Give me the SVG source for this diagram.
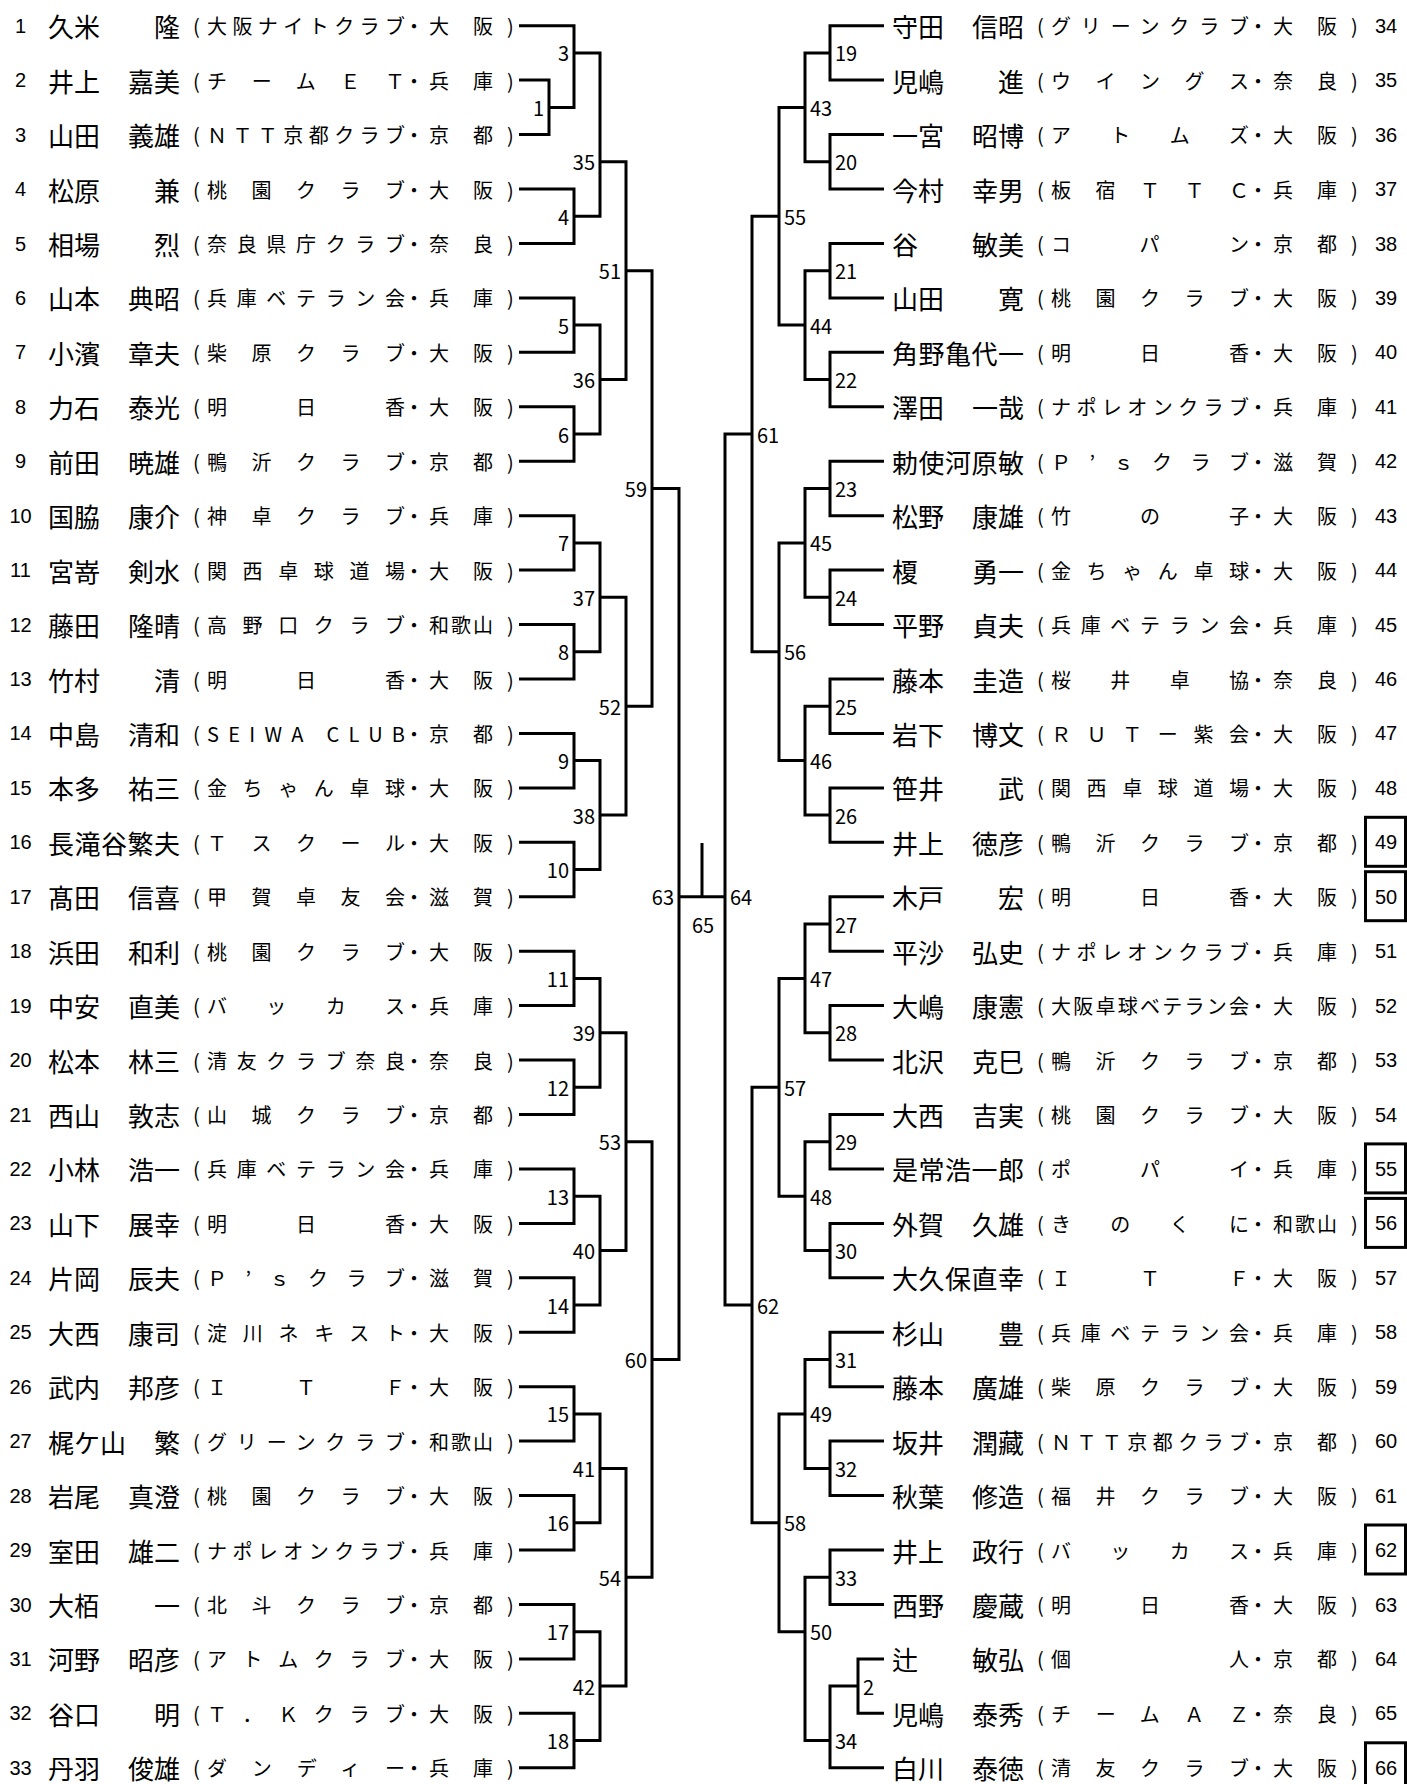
<svg xmlns="http://www.w3.org/2000/svg" width="1407" height="1784" viewBox="0 0 1407 1784">
<style>
text{font-family:"Noto Sans CJK JP",sans-serif;dominant-baseline:central;fill:#000}
.n{font-family:"Liberation Sans",Arial,sans-serif;font-size:20px;text-anchor:middle}
.nm{font-size:26px}
.e{text-anchor:end}
.c{font-size:20px}
.m{text-anchor:middle}
.l{font-family:"Liberation Sans",Arial,sans-serif;font-size:20px}
.cn path{fill:none;stroke:#000;stroke-width:3}
.bx{fill:none;stroke:#000;stroke-width:3}
</style>
<rect width="1407" height="1784" fill="#fff"/>
<g class="cn" id="connectors">
<path d="M519 80.1H549V134.6H519"/>
<path d="M519 25.7H574V107.4H549"/>
<path d="M519 189H574V243.5H519"/>
<path d="M574 52.9H600V216.2H574"/>
<path d="M519 297.9H574V352.3H519"/>
<path d="M519 406.8H574V461.2H519"/>
<path d="M574 325.1H600V434H574"/>
<path d="M600 161.8H626V379.6H600"/>
<path d="M519 515.7H574V570.1H519"/>
<path d="M519 624.5H574V679H519"/>
<path d="M574 542.9H600V651.8H574"/>
<path d="M519 733.4H574V787.9H519"/>
<path d="M519 842.3H574V896.7H519"/>
<path d="M574 760.6H600V869.5H574"/>
<path d="M600 597.3H626V815.1H600"/>
<path d="M626 270.7H652V706.2H626"/>
<path d="M519 951.2H574V1005.6H519"/>
<path d="M519 1060.1H574V1114.5H519"/>
<path d="M574 978.4H600V1087.3H574"/>
<path d="M519 1168.9H574V1223.4H519"/>
<path d="M519 1277.8H574V1332.3H519"/>
<path d="M574 1196.2H600V1305H574"/>
<path d="M600 1032.8H626V1250.6H600"/>
<path d="M519 1386.7H574V1441.1H519"/>
<path d="M519 1495.6H574V1550H519"/>
<path d="M574 1413.9H600V1522.8H574"/>
<path d="M519 1604.5H574V1658.9H519"/>
<path d="M519 1713.3H574V1767.8H519"/>
<path d="M574 1631.7H600V1740.6H574"/>
<path d="M600 1468.4H626V1686.1H600"/>
<path d="M626 1141.7H652V1577.2H626"/>
<path d="M652 488.4H679V1359.5H652"/>
<path d="M679 896.7H725"/>
<path d="M702 843V896.7"/>
<path d="M752 434H725V1305H752"/>
<path d="M884 25.7H830V80.1H884"/>
<path d="M884 134.6H830V189H884"/>
<path d="M830 52.9H805V161.8H830"/>
<path d="M884 243.5H830V297.9H884"/>
<path d="M884 352.3H830V406.8H884"/>
<path d="M830 270.7H805V379.6H830"/>
<path d="M805 107.4H779V325.1H805"/>
<path d="M884 461.2H830V515.7H884"/>
<path d="M884 570.1H830V624.5H884"/>
<path d="M830 488.4H805V597.3H830"/>
<path d="M884 679H830V733.4H884"/>
<path d="M884 787.9H830V842.3H884"/>
<path d="M830 706.2H805V815.1H830"/>
<path d="M805 542.9H779V760.6H805"/>
<path d="M779 216.2H752V651.8H779"/>
<path d="M884 896.7H830V951.2H884"/>
<path d="M884 1005.6H830V1060.1H884"/>
<path d="M830 924H805V1032.8H830"/>
<path d="M884 1114.5H830V1168.9H884"/>
<path d="M884 1223.4H830V1277.8H884"/>
<path d="M830 1141.7H805V1250.6H830"/>
<path d="M805 978.4H779V1196.2H805"/>
<path d="M884 1332.3H830V1386.7H884"/>
<path d="M884 1441.1H830V1495.6H884"/>
<path d="M830 1359.5H805V1468.4H830"/>
<path d="M884 1550H830V1604.5H884"/>
<path d="M884 1658.9H858V1713.3H884"/>
<path d="M858 1686.1H830V1767.8H884"/>
<path d="M830 1577.2H805V1740.6H830"/>
<path d="M805 1413.9H779V1631.7H805"/>
<path d="M779 1087.3H752V1522.8H779"/>
</g>
<g id="match-labels" class="l">
<text x="544" y="107.4" class="e">1</text>
<text x="569" y="52.9" class="e">3</text>
<text x="569" y="216.2" class="e">4</text>
<text x="569" y="325.1" class="e">5</text>
<text x="569" y="434" class="e">6</text>
<text x="569" y="542.9" class="e">7</text>
<text x="569" y="651.8" class="e">8</text>
<text x="569" y="760.6" class="e">9</text>
<text x="569" y="869.5" class="e">10</text>
<text x="569" y="978.4" class="e">11</text>
<text x="569" y="1087.3" class="e">12</text>
<text x="569" y="1196.2" class="e">13</text>
<text x="569" y="1305" class="e">14</text>
<text x="569" y="1413.9" class="e">15</text>
<text x="569" y="1522.8" class="e">16</text>
<text x="569" y="1631.7" class="e">17</text>
<text x="569" y="1740.6" class="e">18</text>
<text x="595" y="161.8" class="e">35</text>
<text x="595" y="379.6" class="e">36</text>
<text x="595" y="597.3" class="e">37</text>
<text x="595" y="815.1" class="e">38</text>
<text x="595" y="1032.8" class="e">39</text>
<text x="595" y="1250.6" class="e">40</text>
<text x="595" y="1468.4" class="e">41</text>
<text x="595" y="1686.1" class="e">42</text>
<text x="621" y="270.7" class="e">51</text>
<text x="621" y="706.2" class="e">52</text>
<text x="621" y="1141.7" class="e">53</text>
<text x="621" y="1577.2" class="e">54</text>
<text x="647" y="488.4" class="e">59</text>
<text x="647" y="1359.5" class="e">60</text>
<text x="674" y="896.7" class="e">63</text>
<text x="703" y="924" class="m">65</text>
<text x="730" y="896.7">64</text>
<text x="757" y="434">61</text>
<text x="757" y="1305">62</text>
<text x="784" y="216.2">55</text>
<text x="784" y="651.8">56</text>
<text x="784" y="1087.3">57</text>
<text x="784" y="1522.8">58</text>
<text x="810" y="107.4">43</text>
<text x="810" y="325.1">44</text>
<text x="810" y="542.9">45</text>
<text x="810" y="760.6">46</text>
<text x="810" y="978.4">47</text>
<text x="810" y="1196.2">48</text>
<text x="810" y="1413.9">49</text>
<text x="810" y="1631.7">50</text>
<text x="835" y="52.9">19</text>
<text x="835" y="161.8">20</text>
<text x="835" y="270.7">21</text>
<text x="835" y="379.6">22</text>
<text x="835" y="488.4">23</text>
<text x="835" y="597.3">24</text>
<text x="835" y="706.2">25</text>
<text x="835" y="815.1">26</text>
<text x="835" y="924">27</text>
<text x="835" y="1032.8">28</text>
<text x="835" y="1141.7">29</text>
<text x="835" y="1250.6">30</text>
<text x="835" y="1359.5">31</text>
<text x="835" y="1468.4">32</text>
<text x="835" y="1577.2">33</text>
<text x="863" y="1686.1">2</text>
<text x="835" y="1740.6">34</text>
</g>
<g id="r1" transform="translate(0 25.7)"><text class="n" x="20.5">1</text><text class="nm" x="48">久米</text><text class="nm e" x="180">隆</text><text class="c m" x="196.5">(</text><text class="c" x="207" textLength="198">大阪ナイトクラブ</text><text class="c" x="404">・</text><text class="c" x="429" textLength="64">大阪</text><text class="c m" x="510.5">)</text></g>
<g id="r2" transform="translate(0 80.1)"><text class="n" x="20.5">2</text><text class="nm" x="48">井上</text><text class="nm e" x="180">嘉美</text><text class="c m" x="196.5">(</text><text class="c" x="207" textLength="198">チームＥＴ</text><text class="c" x="404">・</text><text class="c" x="429" textLength="64">兵庫</text><text class="c m" x="510.5">)</text></g>
<g id="r3" transform="translate(0 134.6)"><text class="n" x="20.5">3</text><text class="nm" x="48">山田</text><text class="nm e" x="180">義雄</text><text class="c m" x="196.5">(</text><text class="c" x="207" textLength="198">ＮＴＴ京都クラブ</text><text class="c" x="404">・</text><text class="c" x="429" textLength="64">京都</text><text class="c m" x="510.5">)</text></g>
<g id="r4" transform="translate(0 189)"><text class="n" x="20.5">4</text><text class="nm" x="48">松原</text><text class="nm e" x="180">兼</text><text class="c m" x="196.5">(</text><text class="c" x="207" textLength="198">桃園クラブ</text><text class="c" x="404">・</text><text class="c" x="429" textLength="64">大阪</text><text class="c m" x="510.5">)</text></g>
<g id="r5" transform="translate(0 243.5)"><text class="n" x="20.5">5</text><text class="nm" x="48">相場</text><text class="nm e" x="180">烈</text><text class="c m" x="196.5">(</text><text class="c" x="207" textLength="198">奈良県庁クラブ</text><text class="c" x="404">・</text><text class="c" x="429" textLength="64">奈良</text><text class="c m" x="510.5">)</text></g>
<g id="r6" transform="translate(0 297.9)"><text class="n" x="20.5">6</text><text class="nm" x="48">山本</text><text class="nm e" x="180">典昭</text><text class="c m" x="196.5">(</text><text class="c" x="207" textLength="198">兵庫ベテラン会</text><text class="c" x="404">・</text><text class="c" x="429" textLength="64">兵庫</text><text class="c m" x="510.5">)</text></g>
<g id="r7" transform="translate(0 352.3)"><text class="n" x="20.5">7</text><text class="nm" x="48">小濱</text><text class="nm e" x="180">章夫</text><text class="c m" x="196.5">(</text><text class="c" x="207" textLength="198">柴原クラブ</text><text class="c" x="404">・</text><text class="c" x="429" textLength="64">大阪</text><text class="c m" x="510.5">)</text></g>
<g id="r8" transform="translate(0 406.8)"><text class="n" x="20.5">8</text><text class="nm" x="48">力石</text><text class="nm e" x="180">泰光</text><text class="c m" x="196.5">(</text><text class="c" x="207" textLength="198">明日香</text><text class="c" x="404">・</text><text class="c" x="429" textLength="64">大阪</text><text class="c m" x="510.5">)</text></g>
<g id="r9" transform="translate(0 461.2)"><text class="n" x="20.5">9</text><text class="nm" x="48">前田</text><text class="nm e" x="180">暁雄</text><text class="c m" x="196.5">(</text><text class="c" x="207" textLength="198">鴨沂クラブ</text><text class="c" x="404">・</text><text class="c" x="429" textLength="64">京都</text><text class="c m" x="510.5">)</text></g>
<g id="r10" transform="translate(0 515.7)"><text class="n" x="20.5">10</text><text class="nm" x="48">国脇</text><text class="nm e" x="180">康介</text><text class="c m" x="196.5">(</text><text class="c" x="207" textLength="198">神卓クラブ</text><text class="c" x="404">・</text><text class="c" x="429" textLength="64">兵庫</text><text class="c m" x="510.5">)</text></g>
<g id="r11" transform="translate(0 570.1)"><text class="n" x="20.5">11</text><text class="nm" x="48">宮嵜</text><text class="nm e" x="180">剣水</text><text class="c m" x="196.5">(</text><text class="c" x="207" textLength="198">関西卓球道場</text><text class="c" x="404">・</text><text class="c" x="429" textLength="64">大阪</text><text class="c m" x="510.5">)</text></g>
<g id="r12" transform="translate(0 624.5)"><text class="n" x="20.5">12</text><text class="nm" x="48">藤田</text><text class="nm e" x="180">隆晴</text><text class="c m" x="196.5">(</text><text class="c" x="207" textLength="198">高野口クラブ</text><text class="c" x="404">・</text><text class="c" x="429" textLength="64">和歌山</text><text class="c m" x="510.5">)</text></g>
<g id="r13" transform="translate(0 679)"><text class="n" x="20.5">13</text><text class="nm" x="48">竹村</text><text class="nm e" x="180">清</text><text class="c m" x="196.5">(</text><text class="c" x="207" textLength="198">明日香</text><text class="c" x="404">・</text><text class="c" x="429" textLength="64">大阪</text><text class="c m" x="510.5">)</text></g>
<g id="r14" transform="translate(0 733.4)"><text class="n" x="20.5">14</text><text class="nm" x="48">中島</text><text class="nm e" x="180">清和</text><text class="c m" x="196.5">(</text><text class="c" x="207" textLength="198">SEIWA CLUB</text><text class="c" x="404">・</text><text class="c" x="429" textLength="64">京都</text><text class="c m" x="510.5">)</text></g>
<g id="r15" transform="translate(0 787.9)"><text class="n" x="20.5">15</text><text class="nm" x="48">本多</text><text class="nm e" x="180">祐三</text><text class="c m" x="196.5">(</text><text class="c" x="207" textLength="198">金ちゃん卓球</text><text class="c" x="404">・</text><text class="c" x="429" textLength="64">大阪</text><text class="c m" x="510.5">)</text></g>
<g id="r16" transform="translate(0 842.3)"><text class="n" x="20.5">16</text><text class="nm" x="48" textLength="132">長滝谷繁夫</text><text class="c m" x="196.5">(</text><text class="c" x="207" textLength="198">Ｔスクール</text><text class="c" x="404">・</text><text class="c" x="429" textLength="64">大阪</text><text class="c m" x="510.5">)</text></g>
<g id="r17" transform="translate(0 896.7)"><text class="n" x="20.5">17</text><text class="nm" x="48">髙田</text><text class="nm e" x="180">信喜</text><text class="c m" x="196.5">(</text><text class="c" x="207" textLength="198">甲賀卓友会</text><text class="c" x="404">・</text><text class="c" x="429" textLength="64">滋賀</text><text class="c m" x="510.5">)</text></g>
<g id="r18" transform="translate(0 951.2)"><text class="n" x="20.5">18</text><text class="nm" x="48">浜田</text><text class="nm e" x="180">和利</text><text class="c m" x="196.5">(</text><text class="c" x="207" textLength="198">桃園クラブ</text><text class="c" x="404">・</text><text class="c" x="429" textLength="64">大阪</text><text class="c m" x="510.5">)</text></g>
<g id="r19" transform="translate(0 1005.6)"><text class="n" x="20.5">19</text><text class="nm" x="48">中安</text><text class="nm e" x="180">直美</text><text class="c m" x="196.5">(</text><text class="c" x="207" textLength="198">バッカス</text><text class="c" x="404">・</text><text class="c" x="429" textLength="64">兵庫</text><text class="c m" x="510.5">)</text></g>
<g id="r20" transform="translate(0 1060.1)"><text class="n" x="20.5">20</text><text class="nm" x="48">松本</text><text class="nm e" x="180">林三</text><text class="c m" x="196.5">(</text><text class="c" x="207" textLength="198">清友クラブ奈良</text><text class="c" x="404">・</text><text class="c" x="429" textLength="64">奈良</text><text class="c m" x="510.5">)</text></g>
<g id="r21" transform="translate(0 1114.5)"><text class="n" x="20.5">21</text><text class="nm" x="48">西山</text><text class="nm e" x="180">敦志</text><text class="c m" x="196.5">(</text><text class="c" x="207" textLength="198">山城クラブ</text><text class="c" x="404">・</text><text class="c" x="429" textLength="64">京都</text><text class="c m" x="510.5">)</text></g>
<g id="r22" transform="translate(0 1168.9)"><text class="n" x="20.5">22</text><text class="nm" x="48">小林</text><text class="nm e" x="180">浩一</text><text class="c m" x="196.5">(</text><text class="c" x="207" textLength="198">兵庫ベテラン会</text><text class="c" x="404">・</text><text class="c" x="429" textLength="64">兵庫</text><text class="c m" x="510.5">)</text></g>
<g id="r23" transform="translate(0 1223.4)"><text class="n" x="20.5">23</text><text class="nm" x="48">山下</text><text class="nm e" x="180">展幸</text><text class="c m" x="196.5">(</text><text class="c" x="207" textLength="198">明日香</text><text class="c" x="404">・</text><text class="c" x="429" textLength="64">大阪</text><text class="c m" x="510.5">)</text></g>
<g id="r24" transform="translate(0 1277.8)"><text class="n" x="20.5">24</text><text class="nm" x="48">片岡</text><text class="nm e" x="180">辰夫</text><text class="c m" x="196.5">(</text><text class="c" x="207" textLength="198">Ｐ’ｓクラブ</text><text class="c" x="404">・</text><text class="c" x="429" textLength="64">滋賀</text><text class="c m" x="510.5">)</text></g>
<g id="r25" transform="translate(0 1332.3)"><text class="n" x="20.5">25</text><text class="nm" x="48">大西</text><text class="nm e" x="180">康司</text><text class="c m" x="196.5">(</text><text class="c" x="207" textLength="198">淀川ネキスト</text><text class="c" x="404">・</text><text class="c" x="429" textLength="64">大阪</text><text class="c m" x="510.5">)</text></g>
<g id="r26" transform="translate(0 1386.7)"><text class="n" x="20.5">26</text><text class="nm" x="48">武内</text><text class="nm e" x="180">邦彦</text><text class="c m" x="196.5">(</text><text class="c" x="207" textLength="198">ＩＴＦ</text><text class="c" x="404">・</text><text class="c" x="429" textLength="64">大阪</text><text class="c m" x="510.5">)</text></g>
<g id="r27" transform="translate(0 1441.1)"><text class="n" x="20.5">27</text><text class="nm" x="48">梶ケ山</text><text class="nm e" x="180">繁</text><text class="c m" x="196.5">(</text><text class="c" x="207" textLength="198">グリーンクラブ</text><text class="c" x="404">・</text><text class="c" x="429" textLength="64">和歌山</text><text class="c m" x="510.5">)</text></g>
<g id="r28" transform="translate(0 1495.6)"><text class="n" x="20.5">28</text><text class="nm" x="48">岩尾</text><text class="nm e" x="180">真澄</text><text class="c m" x="196.5">(</text><text class="c" x="207" textLength="198">桃園クラブ</text><text class="c" x="404">・</text><text class="c" x="429" textLength="64">大阪</text><text class="c m" x="510.5">)</text></g>
<g id="r29" transform="translate(0 1550)"><text class="n" x="20.5">29</text><text class="nm" x="48">室田</text><text class="nm e" x="180">雄二</text><text class="c m" x="196.5">(</text><text class="c" x="207" textLength="198">ナポレオンクラブ</text><text class="c" x="404">・</text><text class="c" x="429" textLength="64">兵庫</text><text class="c m" x="510.5">)</text></g>
<g id="r30" transform="translate(0 1604.5)"><text class="n" x="20.5">30</text><text class="nm" x="48">大栢</text><text class="nm e" x="180">一</text><text class="c m" x="196.5">(</text><text class="c" x="207" textLength="198">北斗クラブ</text><text class="c" x="404">・</text><text class="c" x="429" textLength="64">京都</text><text class="c m" x="510.5">)</text></g>
<g id="r31" transform="translate(0 1658.9)"><text class="n" x="20.5">31</text><text class="nm" x="48">河野</text><text class="nm e" x="180">昭彦</text><text class="c m" x="196.5">(</text><text class="c" x="207" textLength="198">アトムクラブ</text><text class="c" x="404">・</text><text class="c" x="429" textLength="64">大阪</text><text class="c m" x="510.5">)</text></g>
<g id="r32" transform="translate(0 1713.3)"><text class="n" x="20.5">32</text><text class="nm" x="48">谷口</text><text class="nm e" x="180">明</text><text class="c m" x="196.5">(</text><text class="c" x="207" textLength="198">Ｔ．Ｋクラブ</text><text class="c" x="404">・</text><text class="c" x="429" textLength="64">大阪</text><text class="c m" x="510.5">)</text></g>
<g id="r33" transform="translate(0 1767.8)"><text class="n" x="20.5">33</text><text class="nm" x="48">丹羽</text><text class="nm e" x="180">俊雄</text><text class="c m" x="196.5">(</text><text class="c" x="207" textLength="198">ダンディー</text><text class="c" x="404">・</text><text class="c" x="429" textLength="64">兵庫</text><text class="c m" x="510.5">)</text></g>
<g id="r34" transform="translate(844 25.7)"><text class="nm" x="48">守田</text><text class="nm e" x="180">信昭</text><text class="c m" x="196.5">(</text><text class="c" x="207" textLength="198">グリーンクラブ</text><text class="c" x="404">・</text><text class="c" x="429" textLength="64">大阪</text><text class="c m" x="510.5">)</text><text class="n" x="542">34</text></g>
<g id="r35" transform="translate(844 80.1)"><text class="nm" x="48">児嶋</text><text class="nm e" x="180">進</text><text class="c m" x="196.5">(</text><text class="c" x="207" textLength="198">ウイングス</text><text class="c" x="404">・</text><text class="c" x="429" textLength="64">奈良</text><text class="c m" x="510.5">)</text><text class="n" x="542">35</text></g>
<g id="r36" transform="translate(844 134.6)"><text class="nm" x="48">一宮</text><text class="nm e" x="180">昭博</text><text class="c m" x="196.5">(</text><text class="c" x="207" textLength="198">アトムズ</text><text class="c" x="404">・</text><text class="c" x="429" textLength="64">大阪</text><text class="c m" x="510.5">)</text><text class="n" x="542">36</text></g>
<g id="r37" transform="translate(844 189)"><text class="nm" x="48">今村</text><text class="nm e" x="180">幸男</text><text class="c m" x="196.5">(</text><text class="c" x="207" textLength="198">板宿ＴＴＣ</text><text class="c" x="404">・</text><text class="c" x="429" textLength="64">兵庫</text><text class="c m" x="510.5">)</text><text class="n" x="542">37</text></g>
<g id="r38" transform="translate(844 243.5)"><text class="nm" x="48">谷</text><text class="nm e" x="180">敏美</text><text class="c m" x="196.5">(</text><text class="c" x="207" textLength="198">コパン</text><text class="c" x="404">・</text><text class="c" x="429" textLength="64">京都</text><text class="c m" x="510.5">)</text><text class="n" x="542">38</text></g>
<g id="r39" transform="translate(844 297.9)"><text class="nm" x="48">山田</text><text class="nm e" x="180">寛</text><text class="c m" x="196.5">(</text><text class="c" x="207" textLength="198">桃園クラブ</text><text class="c" x="404">・</text><text class="c" x="429" textLength="64">大阪</text><text class="c m" x="510.5">)</text><text class="n" x="542">39</text></g>
<g id="r40" transform="translate(844 352.3)"><text class="nm" x="48" textLength="132">角野亀代一</text><text class="c m" x="196.5">(</text><text class="c" x="207" textLength="198">明日香</text><text class="c" x="404">・</text><text class="c" x="429" textLength="64">大阪</text><text class="c m" x="510.5">)</text><text class="n" x="542">40</text></g>
<g id="r41" transform="translate(844 406.8)"><text class="nm" x="48">澤田</text><text class="nm e" x="180">一哉</text><text class="c m" x="196.5">(</text><text class="c" x="207" textLength="198">ナポレオンクラブ</text><text class="c" x="404">・</text><text class="c" x="429" textLength="64">兵庫</text><text class="c m" x="510.5">)</text><text class="n" x="542">41</text></g>
<g id="r42" transform="translate(844 461.2)"><text class="nm" x="48" textLength="132">勅使河原敏</text><text class="c m" x="196.5">(</text><text class="c" x="207" textLength="198">Ｐ’ｓクラブ</text><text class="c" x="404">・</text><text class="c" x="429" textLength="64">滋賀</text><text class="c m" x="510.5">)</text><text class="n" x="542">42</text></g>
<g id="r43" transform="translate(844 515.7)"><text class="nm" x="48">松野</text><text class="nm e" x="180">康雄</text><text class="c m" x="196.5">(</text><text class="c" x="207" textLength="198">竹の子</text><text class="c" x="404">・</text><text class="c" x="429" textLength="64">大阪</text><text class="c m" x="510.5">)</text><text class="n" x="542">43</text></g>
<g id="r44" transform="translate(844 570.1)"><text class="nm" x="48">榎</text><text class="nm e" x="180">勇一</text><text class="c m" x="196.5">(</text><text class="c" x="207" textLength="198">金ちゃん卓球</text><text class="c" x="404">・</text><text class="c" x="429" textLength="64">大阪</text><text class="c m" x="510.5">)</text><text class="n" x="542">44</text></g>
<g id="r45" transform="translate(844 624.5)"><text class="nm" x="48">平野</text><text class="nm e" x="180">貞夫</text><text class="c m" x="196.5">(</text><text class="c" x="207" textLength="198">兵庫ベテラン会</text><text class="c" x="404">・</text><text class="c" x="429" textLength="64">兵庫</text><text class="c m" x="510.5">)</text><text class="n" x="542">45</text></g>
<g id="r46" transform="translate(844 679)"><text class="nm" x="48">藤本</text><text class="nm e" x="180">圭造</text><text class="c m" x="196.5">(</text><text class="c" x="207" textLength="198">桜井卓協</text><text class="c" x="404">・</text><text class="c" x="429" textLength="64">奈良</text><text class="c m" x="510.5">)</text><text class="n" x="542">46</text></g>
<g id="r47" transform="translate(844 733.4)"><text class="nm" x="48">岩下</text><text class="nm e" x="180">博文</text><text class="c m" x="196.5">(</text><text class="c" x="207" textLength="198">ＲＵＴー紫会</text><text class="c" x="404">・</text><text class="c" x="429" textLength="64">大阪</text><text class="c m" x="510.5">)</text><text class="n" x="542">47</text></g>
<g id="r48" transform="translate(844 787.9)"><text class="nm" x="48">笹井</text><text class="nm e" x="180">武</text><text class="c m" x="196.5">(</text><text class="c" x="207" textLength="198">関西卓球道場</text><text class="c" x="404">・</text><text class="c" x="429" textLength="64">大阪</text><text class="c m" x="510.5">)</text><text class="n" x="542">48</text></g>
<g id="r49" transform="translate(844 842.3)"><text class="nm" x="48">井上</text><text class="nm e" x="180">徳彦</text><text class="c m" x="196.5">(</text><text class="c" x="207" textLength="198">鴨沂クラブ</text><text class="c" x="404">・</text><text class="c" x="429" textLength="64">京都</text><text class="c m" x="510.5">)</text><rect class="bx" x="521.5" y="-25" width="40" height="49"/><text class="n" x="542">49</text></g>
<g id="r50" transform="translate(844 896.7)"><text class="nm" x="48">木戸</text><text class="nm e" x="180">宏</text><text class="c m" x="196.5">(</text><text class="c" x="207" textLength="198">明日香</text><text class="c" x="404">・</text><text class="c" x="429" textLength="64">大阪</text><text class="c m" x="510.5">)</text><rect class="bx" x="521.5" y="-25" width="40" height="49"/><text class="n" x="542">50</text></g>
<g id="r51" transform="translate(844 951.2)"><text class="nm" x="48">平沙</text><text class="nm e" x="180">弘史</text><text class="c m" x="196.5">(</text><text class="c" x="207" textLength="198">ナポレオンクラブ</text><text class="c" x="404">・</text><text class="c" x="429" textLength="64">兵庫</text><text class="c m" x="510.5">)</text><text class="n" x="542">51</text></g>
<g id="r52" transform="translate(844 1005.6)"><text class="nm" x="48">大嶋</text><text class="nm e" x="180">康憲</text><text class="c m" x="196.5">(</text><text class="c" x="207" textLength="198">大阪卓球ベテラン会</text><text class="c" x="404">・</text><text class="c" x="429" textLength="64">大阪</text><text class="c m" x="510.5">)</text><text class="n" x="542">52</text></g>
<g id="r53" transform="translate(844 1060.1)"><text class="nm" x="48">北沢</text><text class="nm e" x="180">克巳</text><text class="c m" x="196.5">(</text><text class="c" x="207" textLength="198">鴨沂クラブ</text><text class="c" x="404">・</text><text class="c" x="429" textLength="64">京都</text><text class="c m" x="510.5">)</text><text class="n" x="542">53</text></g>
<g id="r54" transform="translate(844 1114.5)"><text class="nm" x="48">大西</text><text class="nm e" x="180">吉実</text><text class="c m" x="196.5">(</text><text class="c" x="207" textLength="198">桃園クラブ</text><text class="c" x="404">・</text><text class="c" x="429" textLength="64">大阪</text><text class="c m" x="510.5">)</text><text class="n" x="542">54</text></g>
<g id="r55" transform="translate(844 1168.9)"><text class="nm" x="48" textLength="132">是常浩一郎</text><text class="c m" x="196.5">(</text><text class="c" x="207" textLength="198">ポパイ</text><text class="c" x="404">・</text><text class="c" x="429" textLength="64">兵庫</text><text class="c m" x="510.5">)</text><rect class="bx" x="521.5" y="-25" width="40" height="49"/><text class="n" x="542">55</text></g>
<g id="r56" transform="translate(844 1223.4)"><text class="nm" x="48">外賀</text><text class="nm e" x="180">久雄</text><text class="c m" x="196.5">(</text><text class="c" x="207" textLength="198">きのくに</text><text class="c" x="404">・</text><text class="c" x="429" textLength="64">和歌山</text><text class="c m" x="510.5">)</text><rect class="bx" x="521.5" y="-25" width="40" height="49"/><text class="n" x="542">56</text></g>
<g id="r57" transform="translate(844 1277.8)"><text class="nm" x="48" textLength="132">大久保直幸</text><text class="c m" x="196.5">(</text><text class="c" x="207" textLength="198">ＩＴＦ</text><text class="c" x="404">・</text><text class="c" x="429" textLength="64">大阪</text><text class="c m" x="510.5">)</text><text class="n" x="542">57</text></g>
<g id="r58" transform="translate(844 1332.3)"><text class="nm" x="48">杉山</text><text class="nm e" x="180">豊</text><text class="c m" x="196.5">(</text><text class="c" x="207" textLength="198">兵庫ベテラン会</text><text class="c" x="404">・</text><text class="c" x="429" textLength="64">兵庫</text><text class="c m" x="510.5">)</text><text class="n" x="542">58</text></g>
<g id="r59" transform="translate(844 1386.7)"><text class="nm" x="48">藤本</text><text class="nm e" x="180">廣雄</text><text class="c m" x="196.5">(</text><text class="c" x="207" textLength="198">柴原クラブ</text><text class="c" x="404">・</text><text class="c" x="429" textLength="64">大阪</text><text class="c m" x="510.5">)</text><text class="n" x="542">59</text></g>
<g id="r60" transform="translate(844 1441.1)"><text class="nm" x="48">坂井</text><text class="nm e" x="180">潤藏</text><text class="c m" x="196.5">(</text><text class="c" x="207" textLength="198">ＮＴＴ京都クラブ</text><text class="c" x="404">・</text><text class="c" x="429" textLength="64">京都</text><text class="c m" x="510.5">)</text><text class="n" x="542">60</text></g>
<g id="r61" transform="translate(844 1495.6)"><text class="nm" x="48">秋葉</text><text class="nm e" x="180">修造</text><text class="c m" x="196.5">(</text><text class="c" x="207" textLength="198">福井クラブ</text><text class="c" x="404">・</text><text class="c" x="429" textLength="64">大阪</text><text class="c m" x="510.5">)</text><text class="n" x="542">61</text></g>
<g id="r62" transform="translate(844 1550)"><text class="nm" x="48">井上</text><text class="nm e" x="180">政行</text><text class="c m" x="196.5">(</text><text class="c" x="207" textLength="198">バッカス</text><text class="c" x="404">・</text><text class="c" x="429" textLength="64">兵庫</text><text class="c m" x="510.5">)</text><rect class="bx" x="521.5" y="-25" width="40" height="49"/><text class="n" x="542">62</text></g>
<g id="r63" transform="translate(844 1604.5)"><text class="nm" x="48">西野</text><text class="nm e" x="180">慶蔵</text><text class="c m" x="196.5">(</text><text class="c" x="207" textLength="198">明日香</text><text class="c" x="404">・</text><text class="c" x="429" textLength="64">大阪</text><text class="c m" x="510.5">)</text><text class="n" x="542">63</text></g>
<g id="r64" transform="translate(844 1658.9)"><text class="nm" x="48">辻</text><text class="nm e" x="180">敏弘</text><text class="c m" x="196.5">(</text><text class="c" x="207" textLength="198">個人</text><text class="c" x="404">・</text><text class="c" x="429" textLength="64">京都</text><text class="c m" x="510.5">)</text><text class="n" x="542">64</text></g>
<g id="r65" transform="translate(844 1713.3)"><text class="nm" x="48">児嶋</text><text class="nm e" x="180">泰秀</text><text class="c m" x="196.5">(</text><text class="c" x="207" textLength="198">チームＡＺ</text><text class="c" x="404">・</text><text class="c" x="429" textLength="64">奈良</text><text class="c m" x="510.5">)</text><text class="n" x="542">65</text></g>
<g id="r66" transform="translate(844 1767.8)"><text class="nm" x="48">白川</text><text class="nm e" x="180">泰徳</text><text class="c m" x="196.5">(</text><text class="c" x="207" textLength="198">清友クラブ</text><text class="c" x="404">・</text><text class="c" x="429" textLength="64">大阪</text><text class="c m" x="510.5">)</text><rect class="bx" x="521.5" y="-25" width="40" height="49"/><text class="n" x="542">66</text></g>
</svg>
